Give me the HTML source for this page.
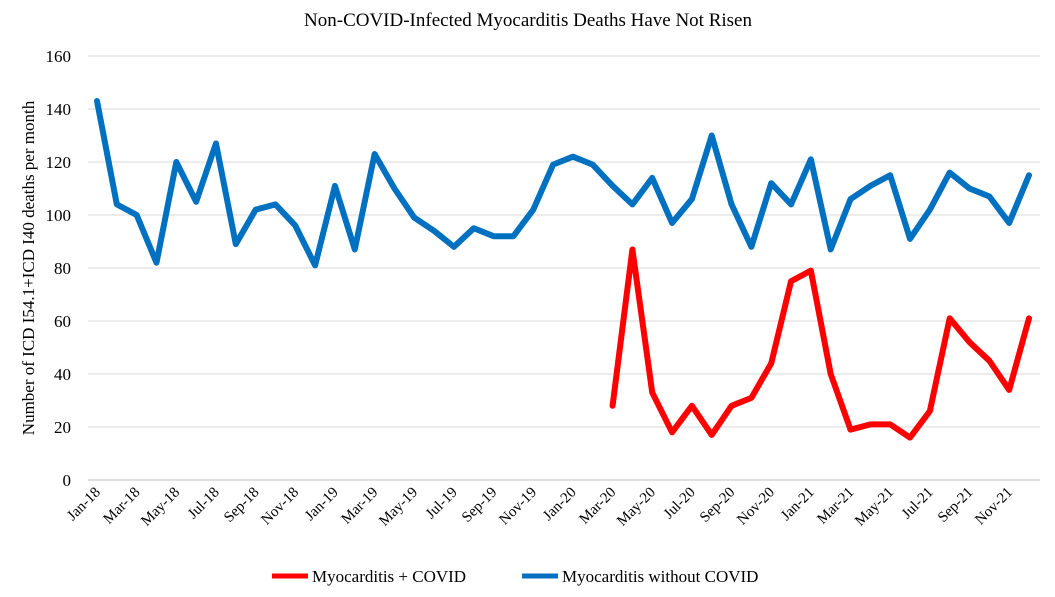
<!DOCTYPE html>
<html><head><meta charset="utf-8"><style>
body{margin:0;background:#fff;width:1055px;height:592px;overflow:hidden}
text{font-family:"Liberation Serif",serif;fill:#000}
</style></head><body>
<svg id="chart" width="1055" height="592" xmlns="http://www.w3.org/2000/svg">
<text x="528" y="26" font-size="19" text-anchor="middle">Non-COVID-Infected Myocarditis Deaths Have Not Risen</text>
<text transform="translate(34,268) rotate(-90)" font-size="17" text-anchor="middle">Number of ICD I54.1+ICD I40 deaths per month</text>
<g id="grid"></g><g id="xlab"></g><g id="lines"></g>
<g>
<line x1="272" y1="576" x2="308" y2="576" stroke="#ff0000" stroke-width="5"/>
<text x="312" y="582" font-size="17">Myocarditis + COVID</text>
<line x1="522" y1="576" x2="558" y2="576" stroke="#0070c0" stroke-width="5"/>
<text x="562" y="582" font-size="17">Myocarditis without COVID</text>
</g>
</svg>
<script>
const months=["Jan","Feb","Mar","Apr","May","Jun","Jul","Aug","Sep","Oct","Nov","Dec"];
const years=["18","19","20","21"];
const yTicks=[0,20,40,60,80,100,120,140,160];
const withoutCovid=[143,104,100,82,120,105,127,89,102,104,96,81,111,87,123,110,99,94,88,95,92,92,102,119,122,119,111,104,114,97,106,130,104,88,112,104,121,87,106,111,115,91,102,116,110,107,97,115];
const covidStartIndex=26;
const withCovid=[28,87,33,18,28,17,28,31,44,75,79,40,19,21,21,16,26,61,52,45,34,61];
const NS="http://www.w3.org/2000/svg";
const categories=[];years.forEach(y=>months.forEach(m=>categories.push(m+"-"+y)));
const x0=97,x1=1029,yB=480,yT=56;
const xs=i=>x0+i*(x1-x0)/(categories.length-1);
const ys=v=>yB-(v/160)*(yB-yT);
const grid=document.getElementById('grid');
yTicks.forEach(t=>{
 const l=document.createElementNS(NS,'line');
 
 
 l.setAttribute('x1',88);l.setAttribute('x2',1040);l.setAttribute('y1',ys(t));l.setAttribute('y2',ys(t));
 l.setAttribute('stroke',t===0?'#bfbfbf':'#d9d9d9');l.setAttribute('stroke-width',1);
 grid.appendChild(l);
 const tx=document.createElementNS(NS,'text');
 
 
 tx.setAttribute('x',71);tx.setAttribute('y',ys(t)+6);tx.setAttribute('text-anchor','end');tx.setAttribute('font-size','17');
 tx.textContent=t;grid.appendChild(tx);
});
const xl=document.getElementById('xlab');
categories.forEach((c,i)=>{
 if(i%2)return;
 const tx=document.createElementNS(NS,'text');
 
 
 const x=xs(i)+4,y=493;
 tx.setAttribute('transform','translate('+x+','+y+') rotate(-45)');
 tx.setAttribute('text-anchor','end');tx.setAttribute('font-size','15');
 tx.textContent=c;xl.appendChild(tx);
});
const lines=document.getElementById('lines');
function poly(vals,off,color,name){
 const p=document.createElementNS(NS,'polyline');
 
 
 p.setAttribute('points',vals.map((v,i)=>xs(i+off)+','+ys(v)).join(' '));
 p.setAttribute('fill','none');p.setAttribute('stroke',color);p.setAttribute('stroke-width',6);
 p.setAttribute('stroke-linejoin','round');p.setAttribute('stroke-linecap','round');
 lines.appendChild(p);
}
poly(withoutCovid,0,'#0070c0','line-without-covid');
poly(withCovid,covidStartIndex,'#ff0000','line-with-covid');
</script>
</body></html>
